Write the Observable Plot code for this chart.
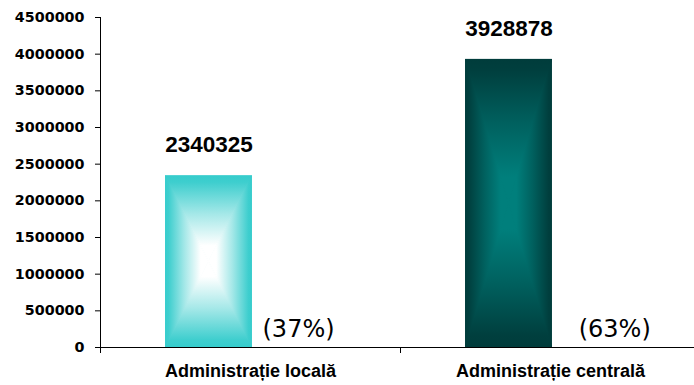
<!DOCTYPE html>
<html>
<head>
<meta charset="utf-8">
<script src="https://cdn.jsdelivr.net/npm/d3@7"></script>
<script src="https://cdn.jsdelivr.net/npm/@observablehq/plot@0.6"></script>
<style>
  html, body { margin: 0; padding: 0; background: #fff; }
  #chart g[aria-label^="y-axis"] text {
    font-family: "DejaVu Sans", sans-serif;
    font-weight: bold;
    font-size: 14.3px;
    fill: #000;
  }
</style>
</head>
<body>
<div id="chart"></div>
<script>
// Employees by level of public administration
const categories = ["Administrație locală", "Administrație centrală"];
const values = [2340325, 3928878];
const shares = ["(37%)", "(63%)"];
const yTicks = [0, 500000, 1000000, 1500000, 2000000, 2500000, 3000000, 3500000, 4000000, 4500000];

// bar styling: edge colour fading into a centre colour
const barEdge = ["#36CCCC", "#003C3B"];
const barCenter = ["#FFFFFF", "#007F7C"];

// layout within each category slot (slot i spans x = i .. i+1)
const barLeft = 0.217, barRight = 0.506;
const shareX = [0.54, 1.594];

const rows = categories.map((c, i) => ({c, i, v: values[i], s: shares[i]}));

const chart = Plot.plot({
  width: 694,
  height: 385,
  marginLeft: 100,
  marginRight: 0,
  marginTop: 17,
  marginBottom: 38,
  style: {background: "white", color: "black"},
  x: {domain: [0, 1.98], ticks: [0, 1], tickFormat: () => "", tickSize: 6, line: true, label: null},
  y: {domain: [0, 4500000], ticks: yTicks, tickFormat: d => String(d), tickSize: 5, tickPadding: 11, line: true, label: null},
  marks: [
    Plot.rectY(rows, {x1: d => d.i + barLeft, x2: d => d.i + barRight, y: "v", fill: d => barEdge[d.i], inset: 0}),
    Plot.text(rows, {x: d => d.i + (barLeft + barRight) / 2, y: "v", text: d => String(d.v), dy: -31,
      fontFamily: "Liberation Sans, Arial, sans-serif", fontWeight: "bold", fontSize: 22.5, fill: "#000"}),
    Plot.text(rows, {x: d => shareX[d.i], y: 0, text: "s", textAnchor: "start", dy: -18,
      fontFamily: "DejaVu Sans, sans-serif", fontSize: 24, fill: "#000"}),
    Plot.text(rows, {x: d => d.i + 0.5, frameAnchor: "bottom", text: "c", dy: 29,
      fontFamily: "Liberation Sans, Arial, sans-serif", fontWeight: "bold", fontSize: 18, fill: "#000"})
  ]
});

document.getElementById("chart").appendChild(chart);

// Shade each bar with a rectangular centre gradient built from four triangles
(function shadeBars(svg) {
  const ns = "http://www.w3.org/2000/svg";
  const defs = document.createElementNS(ns, "defs");
  svg.insertBefore(defs, svg.firstChild);
  const rects = svg.querySelectorAll('g[aria-label="rect"] rect');
  rects.forEach((r, k) => {
    const x = +r.getAttribute("x"), y = +r.getAttribute("y");
    const w = +r.getAttribute("width"), h = +r.getAttribute("height");
    const cx = x + w / 2, cy = y + h / 2;
    const edge = barEdge[k], center = barCenter[k];
    const mix = d3.interpolateRgb(edge, center);
    const stops = [[0, edge], [0.08, mix(0.04)], [0.45, mix(0.55)], [0.82, center], [1, center]];
    // clip so the seam-covering strokes stay inside the bar
    const clip = document.createElementNS(ns, "clipPath");
    clip.setAttribute("id", `bar-clip-${k}`);
    const cr = document.createElementNS(ns, "rect");
    cr.setAttribute("x", x); cr.setAttribute("y", y);
    cr.setAttribute("width", w); cr.setAttribute("height", h);
    clip.appendChild(cr);
    defs.appendChild(clip);
    const g = document.createElementNS(ns, "g");
    g.setAttribute("clip-path", `url(#bar-clip-${k})`);
    r.parentNode.appendChild(g);
    const parts = [
      {pts: [[x, y], [x + w, y], [cx, cy]], g: [cx, y, cx, cy]},
      {pts: [[x, y + h], [x + w, y + h], [cx, cy]], g: [cx, y + h, cx, cy]},
      {pts: [[x, y], [x, y + h], [cx, cy]], g: [x, cy, cx, cy]},
      {pts: [[x + w, y], [x + w, y + h], [cx, cy]], g: [x + w, cy, cx, cy]}
    ];
    parts.forEach((p, j) => {
      const id = `bar-shade-${k}-${j}`;
      const lg = document.createElementNS(ns, "linearGradient");
      lg.setAttribute("id", id);
      lg.setAttribute("gradientUnits", "userSpaceOnUse");
      lg.setAttribute("x1", p.g[0]); lg.setAttribute("y1", p.g[1]);
      lg.setAttribute("x2", p.g[2]); lg.setAttribute("y2", p.g[3]);
      stops.forEach(([o, c]) => {
        const s = document.createElementNS(ns, "stop");
        s.setAttribute("offset", o);
        s.setAttribute("stop-color", c);
        lg.appendChild(s);
      });
      defs.appendChild(lg);
      const poly = document.createElementNS(ns, "polygon");
      poly.setAttribute("points", p.pts.map(q => q.join(",")).join(" "));
      poly.setAttribute("fill", `url(#${id})`);
      poly.setAttribute("stroke", `url(#${id})`);
      poly.setAttribute("stroke-width", 1);
      poly.setAttribute("stroke-linejoin", "round");
      g.appendChild(poly);
    });
  });
})(chart);
</script>
</body>
</html>
